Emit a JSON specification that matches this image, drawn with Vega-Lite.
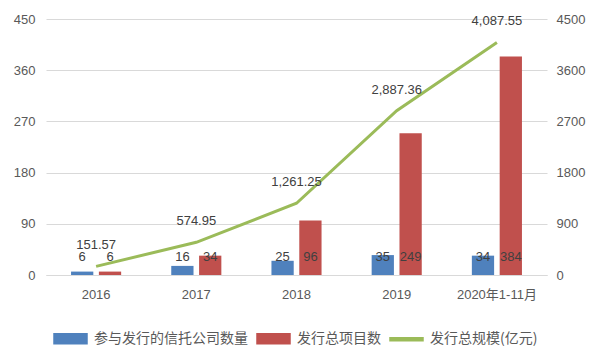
{
  "$schema": "https://vega.github.io/schema/vega-lite/v6.json",
  "width": 501,
  "height": 256,
  "autosize": {"type": "none"},
  "padding": {"left": 46, "top": 19, "right": 53, "bottom": 79},
  "background": "white",
  "config": {
    "view": {"stroke": null},
    "font": "Liberation Sans, Noto Sans CJK SC",
    "axis": {"labelFont": "Liberation Sans, Noto Sans CJK SC", "labelFontSize": 13, "labelColor": "#595959", "ticks": false, "domain": false, "title": null}
  },
  "datasets": {
    "bars": [
      {"year": "2016", "series": "参与发行的信托公司数量", "count": 6},
      {"year": "2016", "series": "发行总项目数", "count": 6},
      {"year": "2017", "series": "参与发行的信托公司数量", "count": 16},
      {"year": "2017", "series": "发行总项目数", "count": 34},
      {"year": "2018", "series": "参与发行的信托公司数量", "count": 25},
      {"year": "2018", "series": "发行总项目数", "count": 96},
      {"year": "2019", "series": "参与发行的信托公司数量", "count": 35},
      {"year": "2019", "series": "发行总项目数", "count": 249},
      {"year": "2020年1-11月", "series": "参与发行的信托公司数量", "count": 34},
      {"year": "2020年1-11月", "series": "发行总项目数", "count": 384}
    ],
    "scale": [
      {"year": "2016", "amount": 151.57},
      {"year": "2017", "amount": 574.95},
      {"year": "2018", "amount": 1261.25},
      {"year": "2019", "amount": 2887.36},
      {"year": "2020年1-11月", "amount": 4087.55}
    ]
  },
  "layer": [
    {
      "data": {"name": "bars"},
      "layer": [
        {
          "mark": {"type": "bar"},
          "encoding": {
            "x": {"field": "year", "type": "nominal", "sort": null,
                  "scale": {"paddingInner": 0.5, "paddingOuter": 0.25},
                  "axis": {"labelAngle": 0, "labelPadding": 13, "domain": true, "domainColor": "#D9D9D9", "domainWidth": 1}},
            "xOffset": {"field": "series", "type": "nominal", "sort": ["参与发行的信托公司数量", "发行总项目数"],
                        "scale": {"paddingInner": 0.2, "paddingOuter": 0}},
            "y": {"field": "count", "type": "quantitative",
                  "scale": {"domain": [0, 450], "nice": false},
                  "axis": {"orient": "left", "values": [0, 90, 180, 270, 360, 450], "grid": true, "gridColor": "#D9D9D9", "labelPadding": 11}},
            "color": {"field": "series", "type": "nominal",
                      "scale": {"domain": ["参与发行的信托公司数量", "发行总项目数", "发行总规模(亿元)"], "range": ["#4F81BD", "#C0504D", "#9BBB59"]},
                      "legend": {"orient": "none", "legendX": 7, "legendY": 302, "direction": "horizontal", "title": null,
                                 "labelFontSize": 14, "labelFont": "Noto Sans CJK SC", "labelColor": "#595959",
                                 "symbolSize": 1089, "labelOffset": 6, "columnPadding": 6,
                                 "encode": {"symbols": {"update": {
                                   "shape": {"signal": "datum.value === '发行总规模(亿元)' ? 'M-1,-0.09h2v0.18h-2z' : 'M-1,-0.3h2v0.6h-2z'"},
                                   "fill": {"scale": "color", "field": "value"},
                                   "stroke": {"value": "transparent"}}}}}}
          }
        },
        {
          "mark": {"type": "text", "fontSize": 13, "color": "#404040", "baseline": "middle", "dy": -18},
          "encoding": {
            "x": {"field": "year", "type": "nominal", "sort": null},
            "xOffset": {"field": "series", "type": "nominal", "sort": ["参与发行的信托公司数量", "发行总项目数"]},
            "y": {"datum": 0, "type": "quantitative"},
            "text": {"field": "count", "type": "quantitative"}
          }
        }
      ]
    },
    {
      "data": {"name": "scale"},
      "layer": [
        {
          "mark": {"type": "line", "strokeWidth": 3},
          "encoding": {
            "x": {"field": "year", "type": "nominal", "sort": null},
            "y": {"field": "amount", "type": "quantitative",
                  "scale": {"domain": [0, 4500], "nice": false},
                  "axis": {"orient": "right", "values": [0, 900, 1800, 2700, 3600, 4500], "grid": false, "labelPadding": 9, "format": "d"}},
            "color": {"datum": "发行总规模(亿元)"}
          }
        },
        {
          "mark": {"type": "text", "fontSize": 13, "color": "#404040", "baseline": "middle", "dy": -21},
          "encoding": {
            "x": {"field": "year", "type": "nominal", "sort": null},
            "y": {"field": "amount", "type": "quantitative"},
            "text": {"field": "amount", "type": "quantitative", "format": ",.2f"}
          }
        }
      ]
    }
  ],
  "resolve": {"scale": {"y": "independent"}, "axis": {"y": "independent"}}
}
